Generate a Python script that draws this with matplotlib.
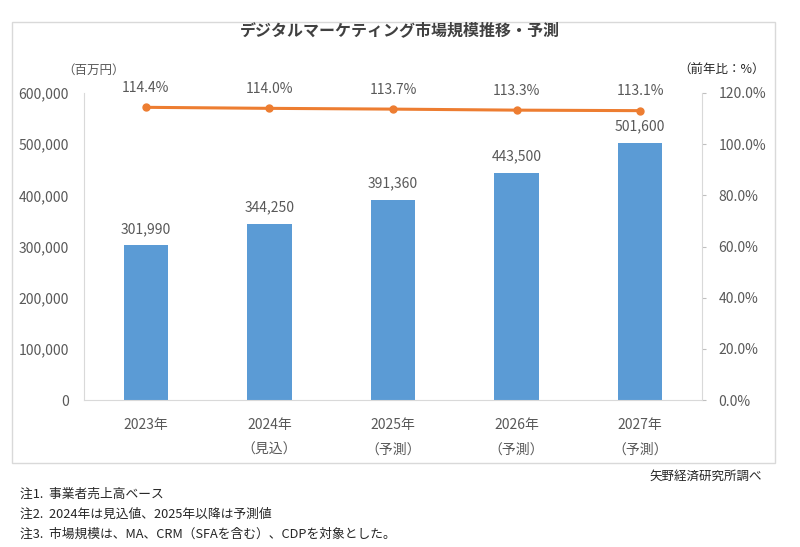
import matplotlib
matplotlib.use("Agg")
import matplotlib.pyplot as plt
from matplotlib.patches import Rectangle
from matplotlib.ticker import FuncFormatter

plt.rcParams['font.family'] = ['Noto Sans CJK JP', 'DejaVu Sans']

# data
years = ['2023年', '2024年\n（見込）', '2025年\n（予測）', '2026年\n（予測）', '2027年\n（予測）']
market = [301990, 344250, 391360, 443500, 501600]      # 百万円
growth = [114.4, 114.0, 113.7, 113.3, 113.1]           # 前年比 %

bar_col = '#5B9BD5'
line_col = '#ED7D31'
txt_col = '#595959'

fig = plt.figure(figsize=(8, 5.47), dpi=100)

# outer chart frame
fig.patches.append(Rectangle((12/800, 1 - 463/547), 763/800, 441/547,
                             transform=fig.transFigure, fill=False,
                             edgecolor='#D9D9D9', lw=1))

ax = fig.add_axes([84/800, 1 - 400/547, 618/800, 307/547])
x = range(len(years))
ax.bar(x, market, width=0.36, color=bar_col, zorder=2)
ax.set_xlim(-0.5, 4.5)
ax.set_ylim(0, 600000)
ax.set_yticks(range(0, 600001, 100000))
ax.yaxis.set_major_formatter(FuncFormatter(lambda v, p: f'{int(v):,}'))
ax.set_xticks(list(x))
ax.set_xticklabels(years, linespacing=2.0)
ax.tick_params(axis='y', length=0, pad=11, labelsize=10, labelcolor=txt_col)
ax.tick_params(axis='x', length=0, pad=13, labelsize=10, labelcolor=txt_col)
for s in ['top', 'right']:
    ax.spines[s].set_visible(False)
ax.spines['left'].set_color('#D9D9D9')
ax.spines['bottom'].set_color('#D9D9D9')

for i, v in enumerate(market):
    ax.annotate(f'{v:,}', (i, v), xytext=(0, 12), textcoords='offset points',
                ha='center', va='center', fontsize=10, color=txt_col)

ax2 = ax.twinx()
ax2.plot(list(x), growth, color=line_col, lw=2.2, marker='o', ms=5, zorder=3)
ax2.set_ylim(0, 120)
ax2.set_yticks(range(0, 121, 20))
ax2.yaxis.set_major_formatter(FuncFormatter(lambda v, p: f'{v:.1f}%'))
ax2.tick_params(axis='y', length=3, color='#BFBFBF', pad=9, labelsize=10, labelcolor=txt_col)
for s in ['top', 'left', 'bottom']:
    ax2.spines[s].set_visible(False)
ax2.spines['right'].set_color('#D9D9D9')

for i, v in enumerate(growth):
    ax2.annotate(f'{v:.1f}%', (i, v), xytext=(0, 14), textcoords='offset points',
                 ha='center', va='center', fontsize=10, color=txt_col)

fig.text(400/800, 1 - 30/547, 'デジタルマーケティング市場規模推移・予測',
         ha='center', va='center', fontsize=11.5, fontweight='bold', color='#404040')
fig.text(62/800, 1 - 70/547, '（百万円）', ha='left', va='center', fontsize=9, color=txt_col)
fig.text(765/800, 1 - 70/547, '（前年比：%）', ha='right', va='center', fontsize=9, color='#262626')
fig.text(762/800, 1 - 476/547, '矢野経済研究所調べ', ha='right', va='center', fontsize=9, color='#262626')

notes = ['注1.  事業者売上高ベース',
         '注2.  2024年は見込値、2025年以降は予測値',
         '注3.  市場規模は、MA、CRM（SFAを含む）、CDPを対象とした。']
for k, n in enumerate(notes):
    fig.text(20/800, 1 - (494 + 20*k)/547, n, ha='left', va='center', fontsize=9.2, color='#262626')

fig.savefig('out.png', dpi=100)
